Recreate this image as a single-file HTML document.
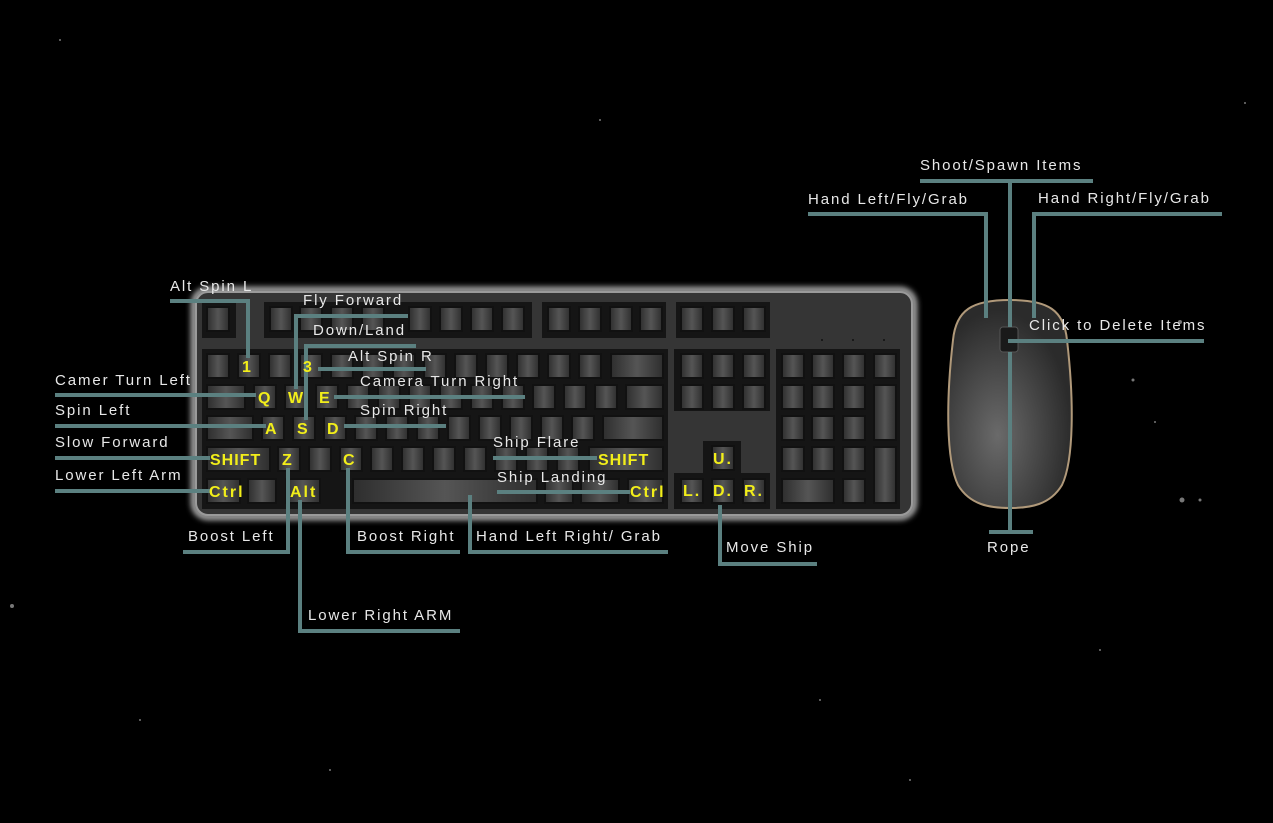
<!DOCTYPE html>
<html><head><meta charset="utf-8"><style>
html,body{margin:0;padding:0;background:#000;width:1273px;height:823px;overflow:hidden}
svg{display:block}
text{font-family:"Liberation Sans",sans-serif;font-size:15px;fill:#e8e8e8;letter-spacing:1.9px}
.y{fill:#f2ee1a;font-size:16px;font-weight:bold;letter-spacing:2px}
.k{fill:url(#kg);stroke:#111;stroke-width:2}
.l{stroke:#5b8080;stroke-width:4;fill:none}
</style></head><body>
<svg width="1273" height="823" viewBox="0 0 1273 823">
<defs>
<linearGradient id="kg" x1="0" x2="1" y1="0" y2="0">
<stop offset="0" stop-color="#2e2e2e"/><stop offset="0.5" stop-color="#555"/><stop offset="1" stop-color="#2e2e2e"/></linearGradient>
<radialGradient id="mg" cx="0.4" cy="0.65" r="0.6"><stop offset="0" stop-color="#6a6a6a"/><stop offset="1" stop-color="#2b2b2b"/></radialGradient>
<filter id="glow"><feGaussianBlur stdDeviation="3"/></filter>
</defs>
<g fill="#777">
<circle cx="12" cy="606" r="2"/><circle cx="1180" cy="322" r="2"/><circle cx="1133" cy="380" r="1.5"/><circle cx="1182" cy="500" r="2.5"/><circle cx="1200" cy="500" r="1.5"/><circle cx="1155" cy="422" r="1"/><circle cx="1245" cy="103" r="1"/><circle cx="60" cy="40" r="1"/><circle cx="330" cy="770" r="1"/><circle cx="820" cy="700" r="1"/><circle cx="1100" cy="650" r="1"/><circle cx="600" cy="120" r="1"/><circle cx="140" cy="720" r="1"/><circle cx="910" cy="780" r="1"/>
</g>
<rect x="194" y="290" width="720" height="227" rx="14" fill="none" stroke="#bbb" stroke-width="6" filter="url(#glow)"/>
<rect x="196" y="292" width="716" height="223" rx="12" fill="#353535" stroke="#9a9a9a" stroke-width="2"/>
<g fill="#151515">
<rect x="202" y="302" width="34" height="36"/><rect x="264" y="302" width="268" height="36"/><rect x="542" y="302" width="124" height="36"/><rect x="676" y="302" width="94" height="36"/>
<rect x="202" y="349" width="466" height="160"/><rect x="674" y="349" width="96" height="62"/><rect x="776" y="349" width="124" height="160"/>
<rect x="703" y="441" width="38" height="36"/><rect x="674" y="473" width="96" height="36"/>
</g>
<g class="k">
<rect x="207" y="307" width="22" height="24"/>
<rect x="270" y="307" width="22" height="24"/><rect x="300" y="307" width="22" height="24"/><rect x="331" y="307" width="22" height="24"/><rect x="362" y="307" width="22" height="24"/>
<rect x="409" y="307" width="22" height="24"/><rect x="440" y="307" width="22" height="24"/><rect x="471" y="307" width="22" height="24"/><rect x="502" y="307" width="22" height="24"/>
<rect x="548" y="307" width="22" height="24"/><rect x="579" y="307" width="22" height="24"/><rect x="610" y="307" width="22" height="24"/><rect x="640" y="307" width="22" height="24"/>
<rect x="681" y="307" width="22" height="24"/><rect x="712" y="307" width="22" height="24"/><rect x="743" y="307" width="22" height="24"/>
<rect x="207" y="354" width="22" height="24"/><rect x="238" y="354" width="22" height="24"/><rect x="269" y="354" width="22" height="24"/><rect x="300" y="354" width="22" height="24"/><rect x="331" y="354" width="22" height="24"/><rect x="362" y="354" width="22" height="24"/><rect x="393" y="354" width="22" height="24"/><rect x="424" y="354" width="22" height="24"/><rect x="455" y="354" width="22" height="24"/><rect x="486" y="354" width="22" height="24"/><rect x="517" y="354" width="22" height="24"/><rect x="548" y="354" width="22" height="24"/><rect x="579" y="354" width="22" height="24"/><rect x="611" y="354" width="52" height="24"/>
<rect x="207" y="385" width="38" height="24"/><rect x="254" y="385" width="22" height="24"/><rect x="285" y="385" width="22" height="24"/><rect x="316" y="385" width="22" height="24"/><rect x="347" y="385" width="22" height="24"/><rect x="378" y="385" width="22" height="24"/><rect x="409" y="385" width="22" height="24"/><rect x="440" y="385" width="22" height="24"/><rect x="471" y="385" width="22" height="24"/><rect x="502" y="385" width="22" height="24"/><rect x="533" y="385" width="22" height="24"/><rect x="564" y="385" width="22" height="24"/><rect x="595" y="385" width="22" height="24"/><rect x="626" y="385" width="37" height="24"/>
<rect x="207" y="416" width="46" height="24"/><rect x="262" y="416" width="22" height="24"/><rect x="293" y="416" width="22" height="24"/><rect x="324" y="416" width="22" height="24"/><rect x="355" y="416" width="22" height="24"/><rect x="386" y="416" width="22" height="24"/><rect x="417" y="416" width="22" height="24"/><rect x="448" y="416" width="22" height="24"/><rect x="479" y="416" width="22" height="24"/><rect x="510" y="416" width="22" height="24"/><rect x="541" y="416" width="22" height="24"/><rect x="572" y="416" width="22" height="24"/><rect x="603" y="416" width="60" height="24"/>
<rect x="207" y="447" width="63" height="24"/><rect x="278" y="447" width="22" height="24"/><rect x="309" y="447" width="22" height="24"/><rect x="340" y="447" width="22" height="24"/><rect x="371" y="447" width="22" height="24"/><rect x="402" y="447" width="22" height="24"/><rect x="433" y="447" width="22" height="24"/><rect x="464" y="447" width="22" height="24"/><rect x="495" y="447" width="22" height="24"/><rect x="526" y="447" width="22" height="24"/><rect x="557" y="447" width="22" height="24"/><rect x="589" y="447" width="74" height="24"/>
<rect x="207" y="479" width="33" height="24"/><rect x="248" y="479" width="28" height="24"/><rect x="286" y="479" width="34" height="24"/><rect x="353" y="479" width="184" height="24"/><rect x="545" y="479" width="28" height="24"/><rect x="581" y="479" width="38" height="24"/><rect x="628" y="479" width="35" height="24"/>
<rect x="681" y="354" width="22" height="24"/><rect x="712" y="354" width="22" height="24"/><rect x="743" y="354" width="22" height="24"/>
<rect x="681" y="385" width="22" height="24"/><rect x="712" y="385" width="22" height="24"/><rect x="743" y="385" width="22" height="24"/>
<rect x="712" y="446" width="22" height="24"/><rect x="681" y="479" width="22" height="24"/><rect x="712" y="479" width="22" height="24"/><rect x="743" y="479" width="22" height="24"/>
<rect x="782" y="354" width="22" height="24"/><rect x="812" y="354" width="22" height="24"/><rect x="843" y="354" width="22" height="24"/><rect x="874" y="354" width="22" height="24"/>
<rect x="782" y="385" width="22" height="24"/><rect x="812" y="385" width="22" height="24"/><rect x="843" y="385" width="22" height="24"/><rect x="874" y="385" width="22" height="55"/>
<rect x="782" y="416" width="22" height="24"/><rect x="812" y="416" width="22" height="24"/><rect x="843" y="416" width="22" height="24"/>
<rect x="782" y="447" width="22" height="24"/><rect x="812" y="447" width="22" height="24"/><rect x="843" y="447" width="22" height="24"/><rect x="874" y="447" width="22" height="56"/>
<rect x="782" y="479" width="52" height="24"/><rect x="843" y="479" width="22" height="24"/>
</g>
<g fill="#111"><circle cx="822" cy="340" r="1"/><circle cx="853" cy="340" r="1"/><circle cx="884" cy="340" r="1"/></g>
<path d="M1010 300 C1048 300 1064 310 1067 340 C1074 400 1074 460 1062 485 C1050 505 1030 508 1010 508 C990 508 970 505 958 485 C946 460 946 400 953 340 C956 310 972 300 1010 300 Z" fill="url(#mg)" stroke="#b0997a" stroke-width="2"/>
<rect x="1000" y="327" width="18" height="25" rx="3" fill="#1a1a1a" stroke="#555"/>
<g class="l">
<path d="M170 301H248V358"/>
<path d="M408 316H296V389"/>
<path d="M416 346H306V420"/>
<path d="M318 369H426"/>
<path d="M334 397H525"/>
<path d="M55 395H256"/>
<path d="M55 426H266"/>
<path d="M344 426H446"/>
<path d="M55 458H210"/>
<path d="M55 491H210"/>
<path d="M493 458H597"/>
<path d="M497 492H630"/>
<path d="M183 552H288V468"/>
<path d="M300 500V631H460"/>
<path d="M348 468V552H460"/>
<path d="M470 495V552H668"/>
<path d="M720 505V564H817"/>
<path d="M920 181H1093M1010 181V327"/>
<path d="M808 214H986V318"/>
<path d="M1222 214H1034V318"/>
<path d="M1008 341H1204"/>
<path d="M1010 352V532M989 532H1033"/>
</g>
<text class="y" x="242" y="372">1</text><text class="y" x="303" y="372">3</text>
<text class="y" x="258" y="403">Q</text><text class="y" x="288" y="403">W</text><text class="y" x="319" y="403">E</text>
<text class="y" x="265" y="434">A</text><text class="y" x="297" y="434">S</text><text class="y" x="327" y="434">D</text>
<text class="y" x="210" y="465" style="letter-spacing:1px">SHIFT</text><text class="y" x="282" y="465">Z</text><text class="y" x="343" y="465">C</text>
<text class="y" x="209" y="497">Ctrl</text><text class="y" x="290" y="497">Alt</text>
<text class="y" x="598" y="465" style="letter-spacing:1px">SHIFT</text><text class="y" x="630" y="497">Ctrl</text>
<text class="y" x="713" y="464">U.</text><text class="y" x="683" y="496">L.</text><text class="y" x="713" y="496">D.</text><text class="y" x="744" y="496">R.</text>
<text x="170" y="291">Alt Spin L</text>
<text x="303" y="305">Fly Forward</text>
<text x="313" y="335">Down/Land</text>
<text x="348" y="361">Alt Spin R</text>
<text x="360" y="386">Camera Turn Right</text>
<text x="55" y="385">Camer Turn Left</text>
<text x="55" y="415">Spin Left</text>
<text x="360" y="415">Spin Right</text>
<text x="55" y="447">Slow Forward</text>
<text x="55" y="480">Lower Left Arm</text>
<text x="493" y="447">Ship Flare</text>
<text x="497" y="482">Ship Landing</text>
<text x="188" y="541">Boost Left</text>
<text x="357" y="541">Boost Right</text>
<text x="476" y="541">Hand Left Right/ Grab</text>
<text x="308" y="620">Lower Right ARM</text>
<text x="726" y="552">Move Ship</text>
<text x="920" y="170">Shoot/Spawn Items</text>
<text x="808" y="204">Hand Left/Fly/Grab</text>
<text x="1038" y="203">Hand Right/Fly/Grab</text>
<text x="1029" y="330">Click to Delete Items</text>
<text x="987" y="552">Rope</text>
</svg>
</body></html>
